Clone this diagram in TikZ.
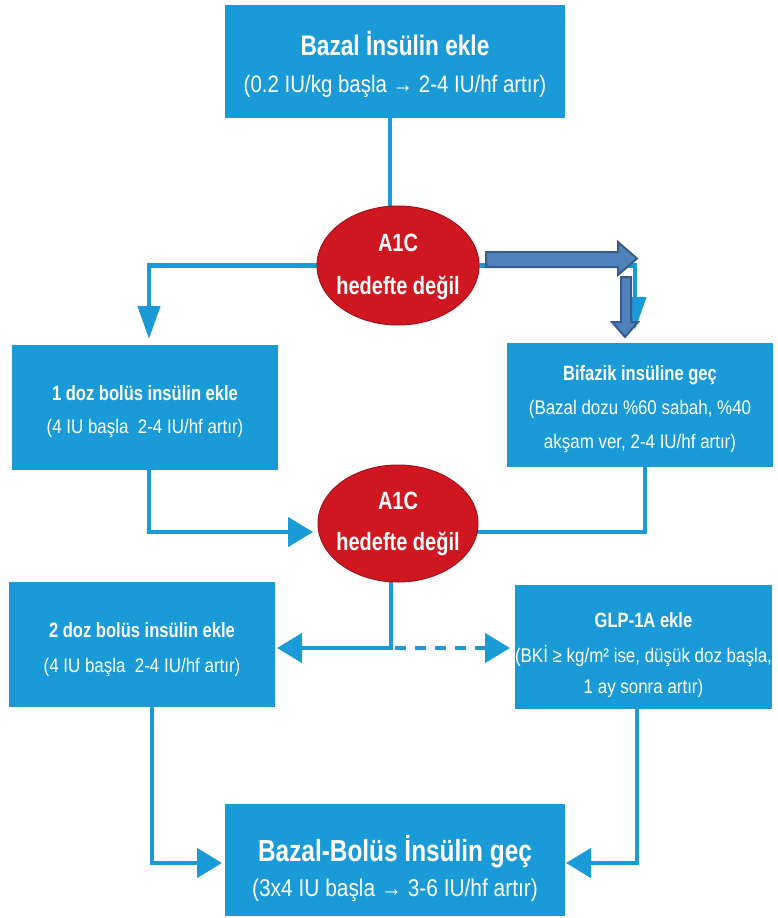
\documentclass[tikz,border=0pt]{standalone}
\usepackage{fontspec}
\setmainfont{Liberation Sans}
\newfontfamily\condT{Liberation Sans}[FakeStretch=0.8]
\newfontfamily\condS{Liberation Sans}[FakeStretch=0.86]
\usetikzlibrary{arrows.meta,shapes.geometric,backgrounds}

\definecolor{boxblue}{HTML}{1A9AD7}
\definecolor{ovalred}{HTML}{CE1720}
\definecolor{blockfill}{HTML}{4F81BD}
\definecolor{blockline}{HTML}{385D8A}

\begin{document}
\begin{tikzpicture}[x=1pt,y=-1pt,
  box/.style={fill=boxblue, draw=none, inner sep=0pt},
  oval/.style={ellipse, fill=ovalred, draw=ovalred!80!black, line width=1pt, inner sep=0pt},
  txt/.style={text=white, anchor=base, inner sep=0pt},
  bigT/.style={txt, font=\condT\bfseries\fontsize{28.3}{32}\selectfont},
  bigS/.style={txt, font=\condS\fontsize{23.8}{28}\selectfont},
  botT/.style={txt, font=\condT\bfseries\fontsize{30.5}{34}\selectfont},
  botS/.style={txt, font=\condS\fontsize{24.3}{28}\selectfont},
  midT/.style={txt, font=\condT\bfseries\fontsize{20.7}{24}\selectfont},
  midS/.style={txt, font=\condS\fontsize{19.7}{23}\selectfont},
  ovalT/.style={txt, font=\condT\bfseries\fontsize{25}{29}\selectfont},
  link/.style={draw=boxblue, line width=4.5pt},
  tip/.style={-{Triangle[length=25pt,width=29pt]}},
  tipL/.style={-{Triangle[length=33pt,width=22pt]}},
  blockarrow/.style={fill=blockfill, draw=blockline, line width=2pt, line join=miter}
]
\useasboundingbox (0,0) rectangle (777,918);

% boxes
\node[box, minimum width=340pt, minimum height=113pt] (top) at (395,61.5) {};
\node[box, minimum width=266pt, minimum height=125pt] (b1) at (145,407.5) {};
\node[box, minimum width=266pt, minimum height=124pt] (b2) at (640,405) {};
\node[box, minimum width=266pt, minimum height=125pt] (b3) at (142,644.5) {};
\node[box, minimum width=257pt, minimum height=124pt] (b4) at (643.5,647) {};
\node[box, minimum width=340pt, minimum height=112pt] (bot) at (395,860) {};

% decision ovals
\node[oval, minimum width=162pt, minimum height=119pt] (e1) at (398,265.5) {};
\node[oval, minimum width=160pt, minimum height=117pt] (e2) at (398,523.5) {};

% texts
\node[bigT] (topA) at (395,55) {Bazal İnsülin ekle};
\node[bigS] (topB) at (395,92) {(0.2 IU/kg başla → 2-4 IU/hf artır)};

\node[ovalT] (e1A) at (398,251) {A1C};
\node[ovalT] (e1B) at (398,294) {hedefte değil};

\node[midT] (b1A) at (145,400) {1 doz bolüs insülin ekle};
\node[midS] (b1B) at (145,433) {(4 IU başla\ \ 2-4 IU/hf artır)};

\node[midT] (b2A) at (640,380) {Bifazik insüline geç};
\node[midS] (b2B) at (640,414) {(Bazal dozu \%60 sabah, \%40};
\node[midS] (b2C) at (640,448) {akşam ver, 2-4 IU/hf artır)};

\node[ovalT] (e2A) at (398,509) {A1C};
\node[ovalT] (e2B) at (398,550) {hedefte değil};

\node[midT] (b3A) at (142,637) {2 doz bolüs insülin ekle};
\node[midS] (b3B) at (142,672) {(4 IU başla\ \ 2-4 IU/hf artır)};

\node[midT] (b4A) at (643.5,627) {GLP-1A ekle};
\node[midS] (b4B) at (643.5,662) {(BKİ ≥ kg/m² ise, düşük doz başla,};
\node[midS] (b4C) at (643.5,693) {1 ay sonra artır)};

\node[botT] (botA) at (395,861) {Bazal-Bolüs İnsülin geç};
\node[botS] (botB) at (395,896) {(3x4 IU başla → 3-6 IU/hf artır)};

% connector end points
\coordinate (t1) at (149,339);
\coordinate (t2) at (635,330);
\coordinate (t3) at (313,532);
\coordinate (j2) at (398,532);
\coordinate (j3) at (391,648);
\coordinate (t4) at (277,648);
\coordinate (t5) at (510,648);
\coordinate (t6) at (222,863);
\coordinate (t7) at (566,863);

\begin{pgfonlayer}{background}
  \fill[white] (0,0) rectangle (777,918);
  \draw[link] ([xshift=-5pt]top.south) -- ([xshift=-5pt]top.south |- e1.center);
  \draw[link, tipL] (e1.center) -| (t1);
  \draw[link, tipL] (e1.center) -| (t2);
  \draw[link, tip] ([xshift=4pt]b1.south) |- (t3);
  \draw[link] ([xshift=5pt]b2.south) |- (j2);
  \draw[link, tip] (j3 |- e2.center) -- (j3) -- (t4);
  \draw[link, tip, dash pattern=on 11pt off 9pt, dash phase=16pt] (j3) -- (t5);
  \draw[link, tip] ([xshift=10pt]b3.south) |- (t6);
  \draw[link, tip] ([xshift=-6.5pt]b4.south) |- (t7);
\end{pgfonlayer}

% block arrows
\draw[blockarrow] (486,252) -- (618,252) -- (618,242) -- (637,258.5) -- (618,275) -- (618,267) -- (486,267) -- cycle;
\draw[blockarrow] (621,277) -- (631,277) -- (631,322) -- (638,322) -- (625,337) -- (612,322) -- (621,322) -- cycle;
\end{tikzpicture}
\end{document}
